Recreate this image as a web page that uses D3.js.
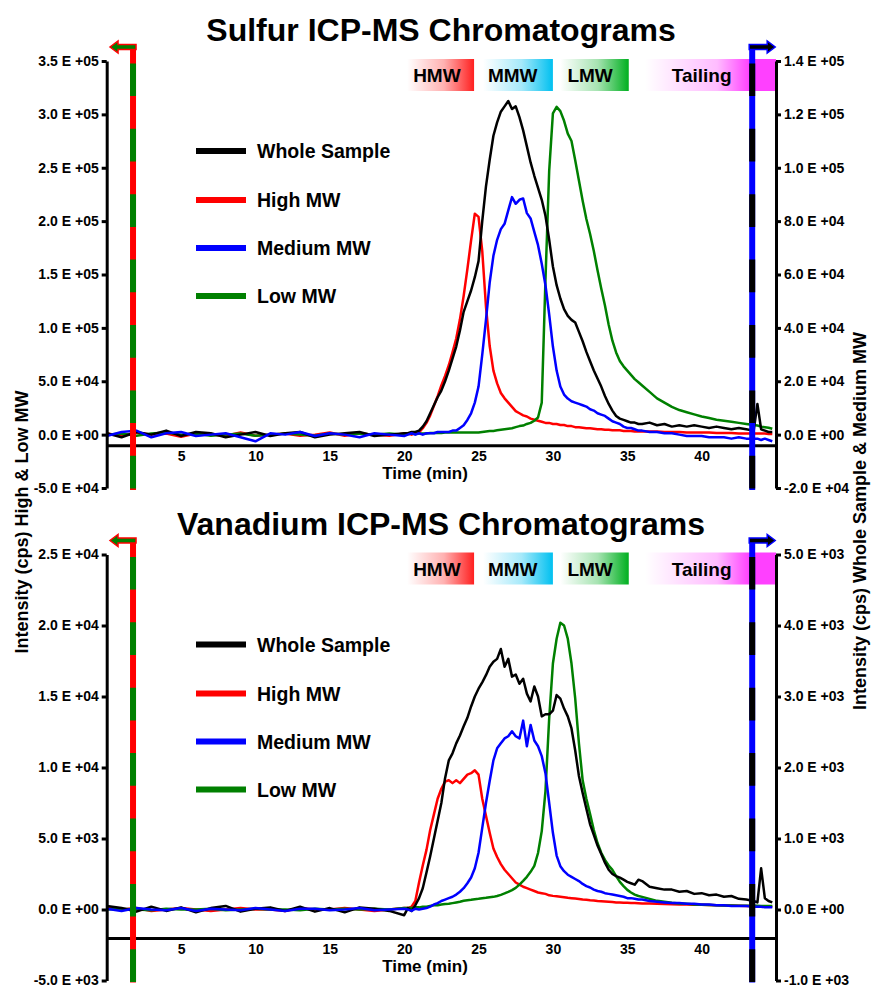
<!DOCTYPE html>
<html><head><meta charset="utf-8">
<script src="https://cdn.jsdelivr.net/npm/d3@7/dist/d3.min.js"></script>
<style>
body{margin:0;background:#fff;}
svg{display:block;font-family:"Liberation Sans",Arial,Helvetica,sans-serif;font-weight:bold;}
</style></head><body>
<svg id="chart" width="872" height="988"></svg>
<script>
// ---------- DATA ----------
const time = [0,1,2,3,4,5,6,7,8,9,10,11,12,13,14,15,16,17,18,19,20,
 20.25,20.5,20.75,21,21.25,21.5,21.75,22,22.25,22.5,22.75,23,23.25,23.5,23.75,24,24.25,24.5,24.75,25,
 25.25,25.5,25.75,26,26.25,26.5,26.75,27,27.25,27.5,27.75,28,28.25,28.5,28.75,29,29.25,29.5,29.75,30,
 30.25,30.5,30.75,31,31.25,31.5,31.75,32,32.25,32.5,32.75,33,33.25,33.5,33.75,34,34.25,34.5,34.75,35,35.25,35.5,35.75,36,
 36.5,37,37.5,38,38.5,39,39.5,40,40.5,41,41.5,42,42.5,43,43.5,
 43.75,44,44.25,44.5,44.75];

// Sulfur (values in thousands of cps)
const sulfurWhole = [0.5,-1,1,0,1.5,-0.5,1,0.5,-1,0,1,-0.5,0.5,1,-1,0,0.5,1,-0.5,0,0.5,
 0.5,1,1,1.5,3,5,8,11,14,16.5,20,24,28.5,33,39,46,50,54,59,65,
 80,93,103,112,117,121,123,125,122,123,119,114,108,102,97,92.5,88,82,73,63,
 56,51,47,44.5,43,42,38.5,35,31,27.5,24,21,18,14.5,11.5,9,7,6,5.5,5,4.5,4.5,4,4,
 4.5,3.5,4,3,3.5,3,3.5,3,2.5,3,2.5,2,2.5,2,1.5,
 11.5,2,1.5,1,1];
const sulfurHigh = [1,-1,2,0,1,-2,1,0,-1,2,-1,0,1,-1,0,2,-1,1,0,-1,1,
 1,0,2,2,6,11,18,27,36,46,55,65,77,90,108,130,155,182,207,204,
 172,120,83,60,48,39,34,30,26,22,20,18,17,15,14,13,12,11,11,10,
 10,9,9,8,8,7,7,6.5,6,6,5.5,5,5,4.5,4.5,4,4,4,3.5,3.5,3.5,3,3,3,
 3,3,2.5,2.5,2.5,2,2,2,2,1.5,1.5,1.5,1,1,1,
 1,1,1,0.5,0.5];
const sulfurMedium = [-0.5,1,1.5,-1,0.5,1,-0.5,0,0.5,-1,-2.5,0.5,0,1,-0.5,0.5,0,-1,0.5,0,-0.5,
 0,0.5,0,0.5,0,0.5,0.5,0.5,1,1,1,1,1.5,1.5,2.5,3.5,5.5,8,12,18,
 30,43,57,67,73,77,79,84,89,86.5,88,88.5,83,81,76,71,64,56,45,33,
 24,18,15,13.5,12.5,12,11.5,11,10.5,9.5,9,8,7.5,7,6,5,4.5,4,3,2.5,2.5,2,1.5,1.5,
 1,1,0.5,0.5,0,-0.5,-0.5,-0.5,-1,-1,-1,-1.5,-1,-1.5,-1.5,
 -1.5,-2,-1.5,-2,-2.5];
const sulfurLow = [0,1,-1,1,2,0,1,-1,0,1,-1,0,1,0,-1,1,0,1,0,1,0,
 0.5,1,0.5,1,1,1,1.5,1.5,1.5,1.5,2,2,2,2,2,2,2,2,2,2,
 2.5,3,3.5,3.5,4,4.5,5,5.5,6,7,8,8.5,10,11,13,16,30,145,247,301,
 307,303,294,282,275,257,238,219,202,188,172,154,137,121,103,88,77,69,64,60,56,52,49,46,
 40,34,30,26,23,21,19,17,15.5,14,13,12,11,10,9,
 8.5,7.5,7,6.5,5.5];

// Vanadium (values in thousands of cps)
const vanadiumWhole = [0.05,0.02,-0.03,0.04,-0.02,0.03,-0.04,0.02,0.05,-0.03,0.01,0.03,-0.02,0.04,-0.03,0.02,-0.04,0.03,0.01,-0.02,-0.08,
 0.02,-0.02,0.06,0.16,0.3,0.52,0.75,1.0,1.25,1.5,1.85,2.1,2.2,2.34,2.45,2.58,2.7,2.86,3.0,3.11,
 3.2,3.3,3.42,3.49,3.53,3.67,3.42,3.53,3.28,3.31,3.18,3.25,3.04,2.93,3.14,3.0,2.72,2.75,2.75,2.8,
 3.02,2.97,2.83,2.72,2.55,2.24,1.88,1.64,1.42,1.2,1.05,0.9,0.78,0.66,0.56,0.5,0.47,0.45,0.42,0.39,0.37,0.35,0.42,0.4,
 0.32,0.3,0.28,0.28,0.25,0.26,0.22,0.23,0.2,0.21,0.18,0.19,0.15,0.14,0.12,
 0.1,0.58,0.16,0.12,0.1];
const vanadiumHigh = [0.1,0,0.1,-0.1,0,0.1,0,-0.1,0,0.1,0,0,-0.1,0.1,0,0,0.1,0,-0.1,0,0.1,
 0.1,0.2,0.6,1.9,3.1,4.2,5.6,6.7,7.8,8.5,9.0,9.1,8.9,9.1,8.9,9.2,9.5,9.6,9.8,9.5,
 7.8,6.6,5.4,4.3,3.7,3.2,2.8,2.5,2.2,1.9,1.75,1.6,1.5,1.4,1.3,1.2,1.15,1.1,1.0,0.96,
 0.93,0.9,0.87,0.83,0.8,0.77,0.74,0.7,0.68,0.65,0.63,0.6,0.58,0.56,0.54,0.52,0.5,0.5,0.48,0.47,0.46,0.45,0.44,0.43,
 0.42,0.4,0.38,0.37,0.36,0.35,0.34,0.33,0.32,0.3,0.29,0.28,0.27,0.25,0.24,
 0.23,0.22,0.21,0.2,0.19];
const vanadiumMedium = [0.01,-0.02,0.02,0,-0.01,0.02,-0.02,0.01,0,-0.01,0.02,0,-0.02,0.01,0.01,-0.01,0,0.02,-0.01,0,0.01,
 0,-0.02,0.01,0,0.01,0.02,0.04,0.07,0.09,0.12,0.14,0.16,0.18,0.21,0.25,0.3,0.37,0.45,0.58,0.8,
 1.15,1.5,1.81,2.1,2.27,2.34,2.41,2.44,2.51,2.44,2.41,2.66,2.3,2.6,2.38,2.3,2.16,1.92,1.5,1.08,
 0.76,0.61,0.54,0.49,0.46,0.43,0.4,0.36,0.33,0.31,0.28,0.26,0.25,0.23,0.22,0.21,0.2,0.19,0.18,0.16,0.16,0.15,0.14,0.14,
 0.12,0.11,0.1,0.09,0.09,0.08,0.08,0.07,0.07,0.06,0.06,0.05,0.05,0.05,0.04,
 0.04,0.04,0.03,0.03,0.03];
const vanadiumLow = [0,0.05,0,-0.05,0.05,0,0,0.05,-0.05,0,0.05,0,0,-0.05,0.05,0,0.05,0,0.05,0,0.1,
 0.1,0.1,0.15,0.15,0.2,0.2,0.25,0.3,0.3,0.35,0.38,0.4,0.45,0.5,0.55,0.61,0.65,0.68,0.72,0.75,
 0.79,0.82,0.86,0.89,0.95,1.03,1.13,1.24,1.37,1.52,1.75,2.01,2.3,2.65,3.07,3.98,5.52,8.33,13.46,17.32,
 19.07,20.2,20.0,19.07,17.32,14.86,11.7,9.1,7.8,6.72,5.6,4.68,4.0,3.49,3.1,2.79,2.35,1.94,1.65,1.38,1.2,1.05,0.95,0.89,
 0.75,0.61,0.54,0.47,0.43,0.4,0.36,0.33,0.31,0.3,0.29,0.28,0.27,0.26,0.26,
 0.26,0.25,0.25,0.25,0.24];

const seriesNames = ["Whole Sample","High MW","Medium MW","Low MW"];
const seriesColors = ["#000000","#ff0000","#0000ff","#008000"];
const xTicks = [5,10,15,20,25,30,35,40];
const sulfurLeftTicks = [-50,0,50,100,150,200,250,300,350];
const sulfurLeftLabels = ["-5.0 E +04","0.0 E +00","5.0 E +04","1.0 E +05","1.5 E +05","2.0 E +05","2.5 E +05","3.0 E +05","3.5 E +05"];
const sulfurRightTicks = [-20,0,20,40,60,80,100,120,140];
const sulfurRightLabels = ["-2.0 E +04","0.0 E +00","2.0 E +04","4.0 E +04","6.0 E +04","8.0 E +04","1.0 E +05","1.2 E +05","1.4 E +05"];
const vanadiumLeftTicks = [-5,0,5,10,15,20,25];
const vanadiumLeftLabels = ["-5.0 E +03","0.0 E +00","5.0 E +03","1.0 E +04","1.5 E +04","2.0 E +04","2.5 E +04"];
const vanadiumRightTicks = [-1,0,1,2,3,4,5];
const vanadiumRightLabels = ["-1.0 E +03","0.0 E +00","1.0 E +03","2.0 E +03","3.0 E +03","4.0 E +03","5.0 E +03"];
const fractionNames = ["HMW","MMW","LMW","Tailing"];
const fractionStart = [20.2,25.3,30.5,36.2];
const fractionEnd = [24.7,30.0,35.1,45];
const fractionLabelAt = [22.2,27.3,32.5,40.0];
const fractionColors = ["#ff2020","#00c0f0","#00b020","#ff40ff"];
const markerTimes = [1.77,43.4];

// ---------- CHART ----------
const FONT = '"Liberation Sans",Arial,Helvetica,sans-serif';
const svg = d3.select("#chart");
const X0 = 106.7, X1 = 776;
const x = d3.scaleLinear().domain([0,45]).range([X0,X1]);
const defs = svg.append("defs");
fractionNames.forEach((n,i)=>{
  const gr = defs.append("linearGradient").attr("id","grad"+i).attr("x1","0").attr("x2","1").attr("y1","0").attr("y2","0");
  gr.append("stop").attr("offset","0").attr("stop-color","#ffffff");
  gr.append("stop").attr("offset","0.55").attr("stop-color", d3.interpolateRgb("#ffffff",fractionColors[i])(0.35));
  gr.append("stop").attr("offset", i===3?"0.8":"1").attr("stop-color",fractionColors[i]);
  if(i===3) gr.append("stop").attr("offset","1").attr("stop-color",fractionColors[i]);
});

const panels = [
 {title:"Sulfur ICP-MS Chromatograms", titleY:41, top:61, bottom:488,
  leftDomain:[-50,350], rightDomain:[-20,140], baseline:-10,
  leftTicks:sulfurLeftTicks, leftLabels:sulfurLeftLabels, rightTicks:sulfurRightTicks, rightLabels:sulfurRightLabels,
  whole:sulfurWhole, high:sulfurHigh, medium:sulfurMedium, low:sulfurLow},
 {title:"Vanadium ICP-MS Chromatograms", titleY:535, top:554.5, bottom:980.5,
  leftDomain:[-5,25], rightDomain:[-1,5], baseline:-2,
  leftTicks:vanadiumLeftTicks, leftLabels:vanadiumLeftLabels, rightTicks:vanadiumRightTicks, rightLabels:vanadiumRightLabels,
  whole:vanadiumWhole, high:vanadiumHigh, medium:vanadiumMedium, low:vanadiumLow}
];

panels.forEach(cfg=>{
  const g = svg.append("g");
  const yL = d3.scaleLinear().domain(cfg.leftDomain).range([cfg.bottom,cfg.top]);
  const yR = d3.scaleLinear().domain(cfg.rightDomain).range([cfg.bottom,cfg.top]);

  g.append("text").attr("x",441).attr("y",cfg.titleY).attr("text-anchor","middle")
    .style("font-size","32px").text(cfg.title);

  // fraction boxes
  fractionNames.forEach((n,i)=>{
    g.append("rect").attr("x",x(fractionStart[i])).attr("y",cfg.top-2)
      .attr("width",x(fractionEnd[i])-x(fractionStart[i])).attr("height",32)
      .attr("fill","url(#grad"+i+")");
    g.append("text").attr("x",x(fractionLabelAt[i])).attr("y",cfg.top+21)
      .attr("text-anchor","middle").style("font-size","19px").text(n);
  });

  // data lines
  const lineL = d3.line().x((d,i)=>x(time[i])).y(d=>yL(d));
  const lineR = d3.line().x((d,i)=>x(time[i])).y(d=>yR(d));
  const draw = (data,gen,color)=>g.append("path").datum(data).attr("d",gen)
      .attr("fill","none").attr("stroke",color).attr("stroke-width",2.5).attr("stroke-linejoin","round");
  draw(cfg.high,lineL,seriesColors[1]);
  draw(cfg.low,lineL,seriesColors[3]);
  draw(cfg.whole,lineR,seriesColors[0]);
  draw(cfg.medium,lineR,seriesColors[2]);

  // axes
  const axL = g.append("g").attr("transform",`translate(${X0},0)`)
    .call(d3.axisLeft(yL).tickValues(cfg.leftTicks).tickFormat((d,i)=>cfg.leftLabels[i]).tickSize(5).tickSizeOuter(0).tickPadding(3));
  const axR = g.append("g").attr("transform",`translate(${X1},0)`)
    .call(d3.axisRight(yR).tickValues(cfg.rightTicks).tickFormat((d,i)=>cfg.rightLabels[i]).tickSize(5).tickSizeOuter(0).tickPadding(3));
  const axX = g.append("g").attr("transform",`translate(0,${yL(cfg.baseline)})`)
    .call(d3.axisBottom(x).tickValues(xTicks).tickFormat(d3.format("d")).tickSize(0).tickSizeOuter(0).tickPadding(6));
  [axL,axR,axX].forEach(a=>{
    a.selectAll("path.domain").attr("stroke","#000").attr("stroke-width",3);
    a.selectAll(".tick line").attr("stroke","#000").attr("stroke-width",3);
    a.selectAll("text").attr("fill","#000").style("font-size","14px").style("font-weight","bold").style("font-family",FONT);
  });
  g.append("text").attr("x",425).attr("y",yL(cfg.baseline)+34).attr("text-anchor","middle")
    .style("font-size","17px").text("Time (min)");

  // markers
  const mTop = cfg.top-14, mBot = cfg.bottom+2;
  const xl = x(markerTimes[0]), xr = x(markerTimes[1]);
  g.append("line").attr("x1",xl).attr("x2",xl).attr("y1",mTop).attr("y2",mBot).attr("stroke","#ff0000").attr("stroke-width",6);
  g.append("line").attr("x1",xl).attr("x2",xl).attr("y1",mTop).attr("y2",mBot).attr("stroke","#008000").attr("stroke-width",6)
    .attr("stroke-dasharray","32.7 32.7").attr("stroke-dashoffset",49);
  g.append("line").attr("x1",xr).attr("x2",xr).attr("y1",mTop).attr("y2",mBot).attr("stroke","#0000ff").attr("stroke-width",6);
  g.append("line").attr("x1",xr).attr("x2",xr).attr("y1",mTop).attr("y2",mBot).attr("stroke","#000000").attr("stroke-width",6)
    .attr("stroke-dasharray","32.7 32.7").attr("stroke-dashoffset",49);
  const ay = mTop;
  g.append("path").attr("d",`M${xl+3},${ay-2.5} L${xl-15},${ay-2.5} L${xl-15},${ay-6} L${xl-23},${ay} L${xl-15},${ay+6} L${xl-15},${ay+2.5} L${xl+3},${ay+2.5} Z`)
    .attr("fill","#008000").attr("stroke","#ff0000").attr("stroke-width",1.5);
  g.append("path").attr("d",`M${xr-3},${ay-2.5} L${xr+15},${ay-2.5} L${xr+15},${ay-6} L${xr+23},${ay} L${xr+15},${ay+6} L${xr+15},${ay+2.5} L${xr-3},${ay+2.5} Z`)
    .attr("fill","#000000").attr("stroke","#0000ff").attr("stroke-width",1.5);

  // legend
  const offs = [90,139,187,235];
  seriesNames.forEach((n,i)=>{
    const yy = cfg.top+offs[i];
    g.append("line").attr("x1",196).attr("x2",246).attr("y1",yy).attr("y2",yy).attr("stroke",seriesColors[i]).attr("stroke-width",6);
    g.append("text").attr("x",257).attr("y",yy+7).style("font-size","19.5px").text(n);
  });

  const lens = [cfg.whole,cfg.high,cfg.medium,cfg.low].map(a=>a.length);
  if(lens.some(l=>l!==time.length)) g.append("text").attr("x",300).attr("y",cfg.top+300).attr("fill","red").text("LEN "+time.length+" "+lens.join(","));
});

// y axis titles
svg.append("text").attr("transform","translate(28,522) rotate(-90)").attr("text-anchor","middle")
  .style("font-size","18px").text("Intensity (cps) High & Low MW");
svg.append("text").attr("transform","translate(866,521) rotate(-90)").attr("text-anchor","middle")
  .style("font-size","18px").text("Intensity (cps) Whole Sample & Medium MW");
</script>
</body></html>
